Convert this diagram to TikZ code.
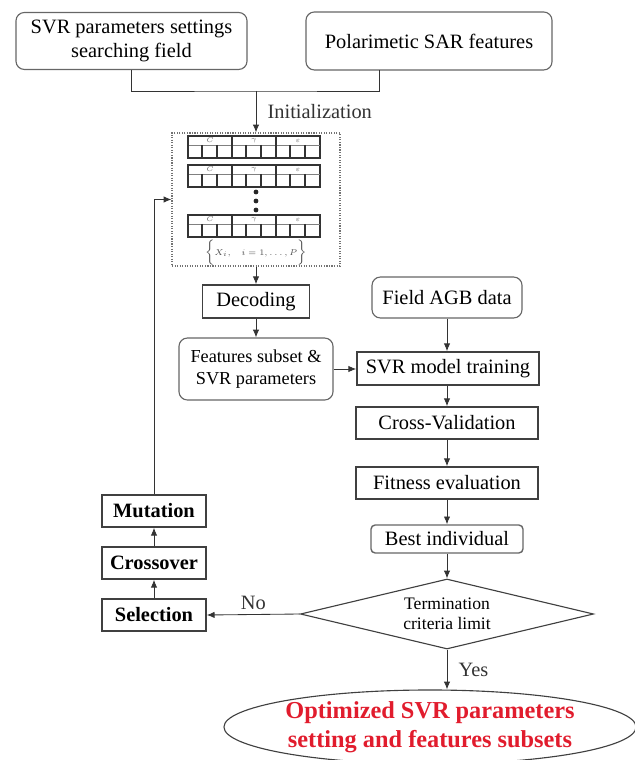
\documentclass[tikz,border=0pt]{standalone}
\usepackage{fontspec}
\setmainfont{Liberation Serif}
\usepackage{tikz}
\usetikzlibrary{arrows.meta}
\usetikzlibrary{positioning}
\usetikzlibrary{shapes}
\usetikzlibrary{calc}
\definecolor{optred}{RGB}{225,28,45}
\tikzstyle{box} = [draw = black!75, line width = .8pt, align = center, inner sep = 0,
                   font = \fontsize{14.5}{16.5}\selectfont]
\tikzstyle{round box} = [box, rounded corners = 6pt, draw = black!60]
\tikzstyle{step box} = [box, line width = 1.1pt]
\tikzstyle{ga box} = [step box, minimum width = 2.6cm, minimum height = .8cm,
                      font = \fontsize{14.5}{16.5}\selectfont\bfseries]
\tikzstyle{flow} = [-{Latex[length = 5.5pt, width = 4.5pt]}, line width = .6pt, black!80]
\tikzstyle{gene} = [line width = .9pt, black!80]
\tikzstyle{gene thin} = [line width = .4pt, black!50]
\tikzstyle{gene label} = [inner sep = 0, font = \fontsize{4.5}{5}\selectfont, black!60]

\begin{document}
\begin{tikzpicture}[x = .025cm, y = -.025cm,
                    label text/.style = {font = \fontsize{14.5}{16.5}\selectfont, inner sep = 2pt},
                   ]
    \useasboundingbox (0,0) rectangle (634,760);

    % inputs
    \node [round box, minimum width = 5.775cm, minimum height = 1.425cm] (search_field) at (131.5,41)
        {SVR parameters settings\\searching field};
    \node [round box, minimum width = 6.15cm, minimum height = 1.45cm] (sar_features) at (429,41)
        {Polarimetic SAR features};
    \coordinate (join) at (256,91);
    \coordinate (sar_tap) at (379,70);

    % population
    \node [draw = black!55, densely dotted, line width = .8pt,
           minimum width = 4.2cm, minimum height = 3.325cm] (population) at (256,199.5) {};
    \foreach \row/\top in {1/136, 2/165, 3/215}
    {
        \draw [gene] (188,\top) rectangle (320,\top+22);
        \draw [gene thin] (188,\top+9) -- (320,\top+9);
        \foreach \seg/\lab in {0/C, 1/\gamma, 2/\varepsilon}
        {
            \draw [gene] (188+44*\seg,\top) -- ++(0,22);
            \node [gene label] (gene_\row_\seg) at (210+44*\seg,\top+4.5) {$\lab$};
            \foreach \t in {14, 29}
                \draw [gene] (188+44*\seg+\t,\top+9) -- ++(0,13);
        }
    }
    \foreach \y in {192, 201, 210}
        \fill [black!85] (256,\y) circle (2.4);
    \node [inner sep = 0, font = \fontsize{6.5}{7}\selectfont, black!70] (pop_set) at (256,253)
        {$\bigl\{X_i,\quad i = 1,\ldots,P\bigr\}$};

    % main flow
    \node [step box, minimum width = 2.675cm, minimum height = .825cm] (decoding) at (256,301.5) {Decoding};
    \node [round box, minimum width = 3.85cm, minimum height = 1.55cm,
           font = \fontsize{13}{15.5}\selectfont] (features_subset) at (256,369)
        {Features subset \&\\SVR parameters};
    \node [round box, minimum width = 3.75cm, minimum height = 1.025cm] (field_agb) at (447,297.5) {Field AGB data};
    \node [step box, minimum width = 4.55cm, minimum height = .825cm] (svr_training) at (448,368.5) {SVR model training};
    \node [step box, minimum width = 4.55cm, minimum height = .8cm] (cross_validation) at (447,423) {Cross-Validation};
    \node [step box, minimum width = 4.55cm, minimum height = .8cm] (fitness) at (447,483) {Fitness evaluation};
    \node [round box, rounded corners = 3pt, line width = 1pt, minimum width = 3.8cm, minimum height = .7cm]
        (best_individual) at (447,539) {Best individual};
    \node [diamond, draw = black!75, line width = .8pt, align = center, inner sep = 0, aspect = 4.2,
           minimum width = 7.325cm, minimum height = 1.75cm,
           font = \fontsize{12.5}{14.5}\selectfont] (termination) at (447,614)
        {Termination\\criteria limit};
    \node [ellipse, draw = black!75, line width = .8pt, align = center, inner sep = 0,
           minimum width = 10.3cm, minimum height = 1.85cm, text = optred,
           font = \fontsize{17.3}{20.6}\selectfont\bfseries] (optimized) at (430,727)
        {Optimized SVR parameters\\setting and features subsets};

    % genetic operators
    \node [ga box] (mutation) at (154,511) {Mutation};
    \node [ga box] (crossover) at (154,563) {Crossover};
    \node [ga box] (selection) at (154,615) {Selection};

    % connectors
    \draw [line width = .6pt, black!80] (search_field.south) |- (join) -| (sar_tap);
    \draw [flow] (join) -- node [label text, right = 6pt] {Initialization} (population.north);
    \draw [flow] (population.south) -- (decoding.north);
    \draw [flow] (decoding.south) -- (features_subset.north);
    \draw [flow] (features_subset.east) -- (features_subset.east -| svr_training.west);
    \draw [flow] (field_agb.south) -- (field_agb.south |- svr_training.north);
    \draw [flow] (svr_training.south -| cross_validation.north) -- (cross_validation.north);
    \draw [flow] (cross_validation.south) -- (fitness.north);
    \draw [flow] (fitness.south) -- (best_individual.north);
    \draw [flow] (best_individual.south) -- (termination.north);
    \draw [flow] (termination.west) -- node [label text, above = 1pt] {No} (selection.east);
    \draw [flow] (termination.south) -- node [label text, right = 6pt] {Yes} (termination.south |- optimized.north);
    \draw [flow] (selection.north) -- (crossover.south);
    \draw [flow] (crossover.north) -- (mutation.south);
    \draw [flow] (mutation.north) |- (population.west);
\end{tikzpicture}
\end{document}
